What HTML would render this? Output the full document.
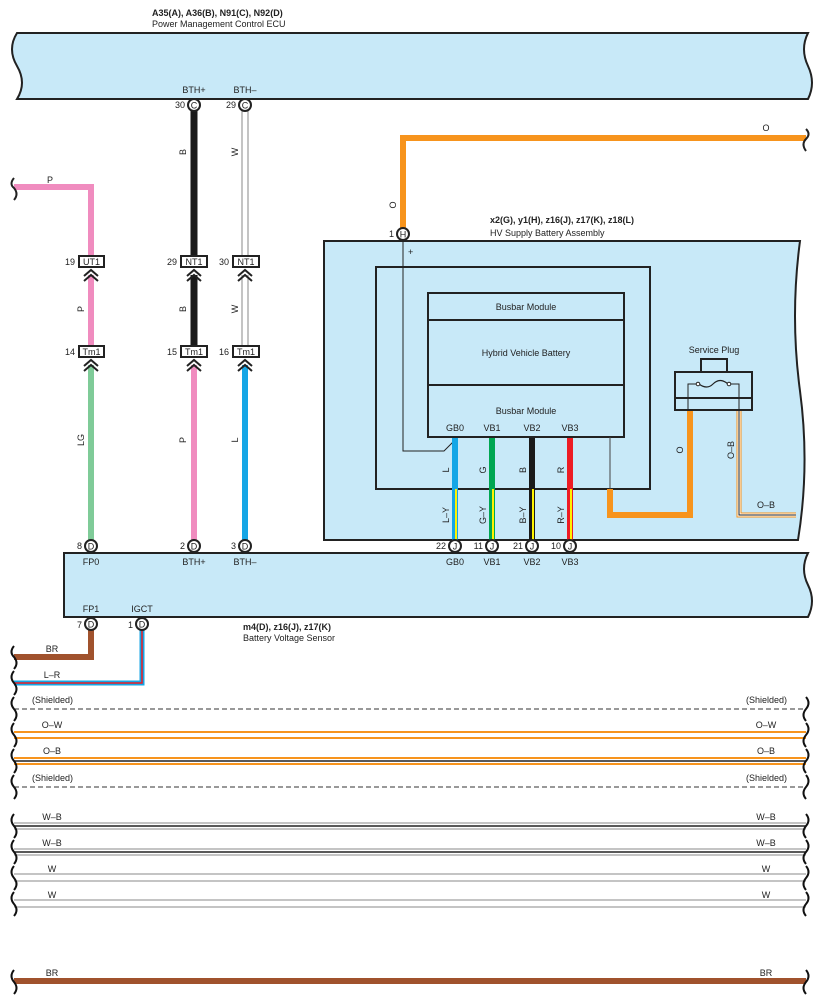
<!DOCTYPE html>
<html><head><meta charset="utf-8"><style>
html,body{margin:0;padding:0;background:#fff;}
svg{display:block;}
text{font-family:"Liberation Sans",sans-serif;font-size:9px;fill:#222;}
.b{font-weight:bold;}
</style></head><body>
<svg width="817" height="1004" viewBox="0 0 817 1004" xmlns="http://www.w3.org/2000/svg">
<text x="152" y="16" class="b">A35(A), A36(B), N91(C), N92(D)</text>
<text x="152" y="27">Power Management Control ECU</text>
<path d="M17 33 H808 q-8 16 0 33 q8 17 0 33 H17 q10-16 0-33 q-10-17 0-33Z" fill="#c8e9f8" stroke="#222" stroke-width="2"/>
<text x="194" y="93" text-anchor="middle">BTH+</text>
<text x="245" y="93" text-anchor="middle">BTH–</text>

<path d="M14 187 H91 V258" fill="none" stroke="#f08cbf" stroke-width="6"/>
<text x="50" y="183" text-anchor="middle">P</text>
<path d="M14 178 q-5 6 0 10 q5 6 0 12" fill="none" stroke="#222" stroke-width="2"/>
<line x1="194" y1="111" x2="194" y2="256" stroke="#1a1a1a" stroke-width="7"/>
<text transform="translate(186,152) rotate(-90)" text-anchor="middle">B</text>
<line x1="242" y1="111" x2="242" y2="256" stroke="#888" stroke-width="1"/>
<line x1="248" y1="111" x2="248" y2="256" stroke="#888" stroke-width="1"/>
<text transform="translate(238,152) rotate(-90)" text-anchor="middle">W</text>
<circle cx="194" cy="105" r="6" fill="#fff" stroke="#222" stroke-width="2"/><text x="194" y="108.5" text-anchor="middle">C</text><text x="185" y="108" text-anchor="end">30</text>
<circle cx="245" cy="105" r="6" fill="#fff" stroke="#222" stroke-width="2"/><text x="245" y="108.5" text-anchor="middle">C</text><text x="236" y="108" text-anchor="end">29</text>

<line x1="91" y1="275" x2="91" y2="346" stroke="#f08cbf" stroke-width="6"/>
<text transform="translate(84,309) rotate(-90)" text-anchor="middle">P</text>
<line x1="194" y1="275" x2="194" y2="346" stroke="#1a1a1a" stroke-width="7"/>
<text transform="translate(186,309) rotate(-90)" text-anchor="middle">B</text>
<line x1="242" y1="275" x2="242" y2="346" stroke="#888"/>
<line x1="248" y1="275" x2="248" y2="346" stroke="#888"/>
<text transform="translate(238,309) rotate(-90)" text-anchor="middle">W</text>
<line x1="91" y1="365" x2="91" y2="540" stroke="#7fcb98" stroke-width="6"/>
<text transform="translate(84,440) rotate(-90)" text-anchor="middle">LG</text>
<line x1="194" y1="365" x2="194" y2="540" stroke="#f08cbf" stroke-width="6"/>
<text transform="translate(186,440) rotate(-90)" text-anchor="middle">P</text>
<line x1="245" y1="365" x2="245" y2="540" stroke="#15a6e6" stroke-width="6"/>
<text transform="translate(238,440) rotate(-90)" text-anchor="middle">L</text>

<g fill="#fff" stroke="#222" stroke-width="2">
<rect x="79" y="256" width="25" height="11"/><rect x="181" y="256" width="26" height="11"/><rect x="233" y="256" width="26" height="11"/>
<rect x="79" y="346" width="25" height="11"/><rect x="181" y="346" width="26" height="11"/><rect x="233" y="346" width="26" height="11"/>
</g>
<g font-size="9">
<text x="91.5" y="265" text-anchor="middle">UT1</text><text x="194" y="265" text-anchor="middle">NT1</text><text x="246" y="265" text-anchor="middle">NT1</text>
<text x="91.5" y="355" text-anchor="middle">Tm1</text><text x="194" y="355" text-anchor="middle">Tm1</text><text x="246" y="355" text-anchor="middle">Tm1</text>
<text x="75" y="265" text-anchor="end">19</text><text x="177" y="265" text-anchor="end">29</text><text x="229" y="265" text-anchor="end">30</text>
<text x="75" y="355" text-anchor="end">14</text><text x="177" y="355" text-anchor="end">15</text><text x="229" y="355" text-anchor="end">16</text>
</g>
<g fill="none" stroke="#222" stroke-width="2">
<path d="M84 276 l7-6 l7 6 M84 281 l7-6 l7 6"/><path d="M187 276 l7-6 l7 6 M187 281 l7-6 l7 6"/><path d="M238 276 l7-6 l7 6 M238 281 l7-6 l7 6"/>
<path d="M84 366 l7-6 l7 6 M84 371 l7-6 l7 6"/><path d="M187 366 l7-6 l7 6 M187 371 l7-6 l7 6"/><path d="M238 366 l7-6 l7 6 M238 371 l7-6 l7 6"/>
</g>

<path d="M806 138 H403 V228" fill="none" stroke="#f7941d" stroke-width="6"/>
<text x="766" y="131" text-anchor="middle">O</text>
<text transform="translate(396,205) rotate(-90)" text-anchor="middle">O</text>
<path d="M806 129 q5 5 0 10 q-5 5 0 12" fill="none" stroke="#222" stroke-width="2"/>

<text x="490" y="223" class="b">x2(G), y1(H), z16(J), z17(K), z18(L)</text>
<text x="490" y="236">HV Supply Battery Assembly</text>
<path d="M324 241 H800 q-10 75 0 150 q10 75 -2 149 H324Z" fill="#c8e9f8" stroke="#222" stroke-width="2"/>
<rect x="376" y="267" width="274" height="222" fill="none" stroke="#222" stroke-width="2"/>
<rect x="428" y="293" width="196" height="144" fill="none" stroke="#222" stroke-width="2"/>
<line x1="428" y1="320" x2="624" y2="320" stroke="#222" stroke-width="2"/>
<line x1="428" y1="385" x2="624" y2="385" stroke="#222" stroke-width="2"/>
<text x="526" y="310" text-anchor="middle">Busbar Module</text>
<text x="526" y="356" text-anchor="middle">Hybrid Vehicle Battery</text>
<text x="526" y="414" text-anchor="middle">Busbar Module</text>
<text x="455" y="431" text-anchor="middle">GB0</text><text x="492" y="431" text-anchor="middle">VB1</text><text x="532" y="431" text-anchor="middle">VB2</text><text x="570" y="431" text-anchor="middle">VB3</text>
<path d="M403 240 V451 H444 L453 442" fill="none" stroke="#222" stroke-width="1"/>
<text x="408" y="255" font-size="8">+</text>
<circle cx="403" cy="234" r="6" fill="#fff" stroke="#222" stroke-width="2"/><text x="403" y="237.5" text-anchor="middle">H</text><text x="394" y="237" text-anchor="end">1</text>

<line x1="455" y1="438" x2="455" y2="489" stroke="#15a6e6" stroke-width="6"/>
<line x1="492" y1="438" x2="492" y2="489" stroke="#00a651" stroke-width="6"/>
<line x1="532" y1="438" x2="532" y2="489" stroke="#1a1a1a" stroke-width="6"/>
<line x1="570" y1="438" x2="570" y2="489" stroke="#ed1c24" stroke-width="6"/>
<text transform="translate(449,470) rotate(-90)" text-anchor="middle">L</text>
<text transform="translate(486,470) rotate(-90)" text-anchor="middle">G</text>
<text transform="translate(526,470) rotate(-90)" text-anchor="middle">B</text>
<text transform="translate(564,470) rotate(-90)" text-anchor="middle">R</text>
<g>
<line x1="455" y1="489" x2="455" y2="540" stroke="#15a6e6" stroke-width="6"/><line x1="456" y1="489" x2="456" y2="540" stroke="#fff200" stroke-width="2"/>
<line x1="492" y1="489" x2="492" y2="540" stroke="#00a651" stroke-width="6"/><line x1="493" y1="489" x2="493" y2="540" stroke="#fff200" stroke-width="2"/>
<line x1="532" y1="489" x2="532" y2="540" stroke="#1a1a1a" stroke-width="6"/><line x1="533" y1="489" x2="533" y2="540" stroke="#fff200" stroke-width="2"/>
<line x1="570" y1="489" x2="570" y2="540" stroke="#ed1c24" stroke-width="6"/><line x1="571" y1="489" x2="571" y2="540" stroke="#fff200" stroke-width="2"/>
</g>
<text transform="translate(449,515) rotate(-90)" text-anchor="middle">L–Y</text>
<text transform="translate(486,515) rotate(-90)" text-anchor="middle">G–Y</text>
<text transform="translate(526,515) rotate(-90)" text-anchor="middle">B–Y</text>
<text transform="translate(564,515) rotate(-90)" text-anchor="middle">R–Y</text>

<line x1="610" y1="437" x2="610" y2="489" stroke="#444" stroke-width="1"/>
<path d="M610 489 V515 H690 V410" fill="none" stroke="#f7941d" stroke-width="6"/>
<text transform="translate(683,450) rotate(-90)" text-anchor="middle">O</text>
<path d="M739 410 V515 H796" fill="none" stroke="#f7941d" stroke-width="5"/>
<path d="M739 410 V515 H796" fill="none" stroke="#fff" stroke-width="3"/>
<path d="M739 410 V515 H796" fill="none" stroke="#222" stroke-width="1"/>
<text transform="translate(734,450) rotate(-90)" text-anchor="middle">O–B</text>
<text x="766" y="508" text-anchor="middle">O–B</text>
<text x="714" y="353" text-anchor="middle">Service Plug</text>
<rect x="701" y="359" width="26" height="13" fill="none" stroke="#222" stroke-width="2"/>
<rect x="675" y="372" width="77" height="38" fill="none" stroke="#222" stroke-width="2"/>
<line x1="675" y1="398" x2="752" y2="398" stroke="#222" stroke-width="2"/>
<path d="M688 410 V384 H697 M730 384 H739 V410" fill="none" stroke="#222" stroke-width="1"/>
<path d="M699 384 q8 6 14 0 q7 -7 15 0" fill="none" stroke="#222" stroke-width="1.2"/>
<circle cx="698" cy="384" r="1.8" fill="#fff" stroke="#222"/><circle cx="729" cy="384" r="1.8" fill="#fff" stroke="#222"/>

<path d="M64 553 H808 q-8 16 0 32 q8 16 0 32 H64Z" fill="#c8e9f8" stroke="#222" stroke-width="2"/>
<g>
<text x="91" y="565" text-anchor="middle">FP0</text><text x="194" y="565" text-anchor="middle">BTH+</text><text x="245" y="565" text-anchor="middle">BTH–</text>
<text x="455" y="565" text-anchor="middle">GB0</text><text x="492" y="565" text-anchor="middle">VB1</text><text x="532" y="565" text-anchor="middle">VB2</text><text x="570" y="565" text-anchor="middle">VB3</text>
<text x="91" y="612" text-anchor="middle">FP1</text><text x="142" y="612" text-anchor="middle">IGCT</text>
</g>
<g fill="#fff" stroke="#222" stroke-width="2">
<circle cx="91" cy="546" r="6"/><circle cx="194" cy="546" r="6"/><circle cx="245" cy="546" r="6"/>
<circle cx="455" cy="546" r="6"/><circle cx="492" cy="546" r="6"/><circle cx="532" cy="546" r="6"/><circle cx="570" cy="546" r="6"/>
</g>
<g text-anchor="middle">
<text x="91" y="549.5">D</text><text x="194" y="549.5">D</text><text x="245" y="549.5">D</text>
<text x="455" y="549.5">J</text><text x="492" y="549.5">J</text><text x="532" y="549.5">J</text><text x="570" y="549.5">J</text>
</g>
<g text-anchor="end">
<text x="82" y="549">8</text><text x="185" y="549">2</text><text x="236" y="549">3</text>
<text x="446" y="549">22</text><text x="483" y="549">11</text><text x="523" y="549">21</text><text x="561" y="549">10</text>
<text x="82" y="628">7</text><text x="133" y="628">1</text>
</g>
<text x="243" y="630" class="b">m4(D), z16(J), z17(K)</text>
<text x="243" y="641">Battery Voltage Sensor</text>

<path d="M91 630 V657 H14" fill="none" stroke="#a0522d" stroke-width="6"/>
<text x="52" y="652" text-anchor="middle">BR</text>
<path d="M142 630 V683 H14" fill="none" stroke="#15a6e6" stroke-width="5"/>
<path d="M142 630 V683 H14" fill="none" stroke="#ed1c24" stroke-width="1.5"/>
<text x="52" y="678" text-anchor="middle">L–R</text>
<g fill="#fff" stroke="#222" stroke-width="2"><circle cx="91" cy="624" r="6"/><circle cx="142" cy="624" r="6"/></g>
<text x="91" y="627.5" text-anchor="middle">D</text><text x="142" y="627.5" text-anchor="middle">D</text>

<g stroke-width="1">
<line x1="14" y1="709" x2="806" y2="709" stroke="#333" stroke-dasharray="5,3"/>
<line x1="14" y1="732" x2="806" y2="732" stroke="#f7941d" stroke-width="2"/>
<line x1="14" y1="738" x2="806" y2="738" stroke="#f7941d" stroke-width="2"/>
<line x1="14" y1="758" x2="806" y2="758" stroke="#f7941d" stroke-width="2"/>
<line x1="14" y1="761" x2="806" y2="761" stroke="#222" stroke-width="1.5"/>
<line x1="14" y1="764" x2="806" y2="764" stroke="#f7941d" stroke-width="2"/>
<line x1="14" y1="787" x2="806" y2="787" stroke="#333" stroke-dasharray="5,3"/>
<line x1="14" y1="823" x2="806" y2="823" stroke="#888"/>
<line x1="14" y1="826" x2="806" y2="826" stroke="#222" stroke-width="1.5"/>
<line x1="14" y1="829" x2="806" y2="829" stroke="#888"/>
<line x1="14" y1="849" x2="806" y2="849" stroke="#888"/>
<line x1="14" y1="852" x2="806" y2="852" stroke="#222" stroke-width="1.5"/>
<line x1="14" y1="855" x2="806" y2="855" stroke="#888"/>
<line x1="14" y1="874" x2="806" y2="874" stroke="#888"/>
<line x1="14" y1="881" x2="806" y2="881" stroke="#888"/>
<line x1="14" y1="900" x2="806" y2="900" stroke="#888"/>
<line x1="14" y1="907" x2="806" y2="907" stroke="#888"/>
<line x1="14" y1="981" x2="806" y2="981" stroke="#a0522d" stroke-width="6"/>
</g>
<g>
<text x="32" y="703">(Shielded)</text><text x="787" y="703" text-anchor="end">(Shielded)</text>
<text x="52" y="728" text-anchor="middle">O–W</text><text x="766" y="728" text-anchor="middle">O–W</text>
<text x="52" y="754" text-anchor="middle">O–B</text><text x="766" y="754" text-anchor="middle">O–B</text>
<text x="32" y="781">(Shielded)</text><text x="787" y="781" text-anchor="end">(Shielded)</text>
<text x="52" y="820" text-anchor="middle">W–B</text><text x="766" y="820" text-anchor="middle">W–B</text>
<text x="52" y="846" text-anchor="middle">W–B</text><text x="766" y="846" text-anchor="middle">W–B</text>
<text x="52" y="872" text-anchor="middle">W</text><text x="766" y="872" text-anchor="middle">W</text>
<text x="52" y="898" text-anchor="middle">W</text><text x="766" y="898" text-anchor="middle">W</text>
<text x="52" y="976" text-anchor="middle">BR</text><text x="766" y="976" text-anchor="middle">BR</text>
</g>
<g fill="none" stroke="#111" stroke-width="2">
<path d="M14 646 q-5 6 0 11 q5 6 0 12"/>
<path d="M14 671 q-5 6 0 12 q5 6 0 12"/>
<path d="M14 697 q-5 6 0 12 q5 6 0 12"/>
<path d="M14 723 q-5 6 0 12 q5 6 0 12"/>
<path d="M14 749 q-5 6 0 12 q5 6 0 12"/>
<path d="M14 775 q-5 6 0 12 q5 6 0 12"/>
<path d="M14 814 q-5 6 0 12 q5 6 0 12"/>
<path d="M14 840 q-5 6 0 12 q5 6 0 12"/>
<path d="M14 866 q-5 6 0 12 q5 6 0 12"/>
<path d="M14 892 q-5 6 0 12 q5 6 0 12"/>
<path d="M14 970 q-5 6 0 12 q5 6 0 12"/>
<path d="M806 697 q5 6 0 12 q-5 6 0 12"/>
<path d="M806 723 q5 6 0 12 q-5 6 0 12"/>
<path d="M806 749 q5 6 0 12 q-5 6 0 12"/>
<path d="M806 775 q5 6 0 12 q-5 6 0 12"/>
<path d="M806 814 q5 6 0 12 q-5 6 0 12"/>
<path d="M806 840 q5 6 0 12 q-5 6 0 12"/>
<path d="M806 866 q5 6 0 12 q-5 6 0 12"/>
<path d="M806 892 q5 6 0 12 q-5 6 0 12"/>
<path d="M806 970 q5 6 0 12 q-5 6 0 12"/>
</g>
</svg>
</body></html>
